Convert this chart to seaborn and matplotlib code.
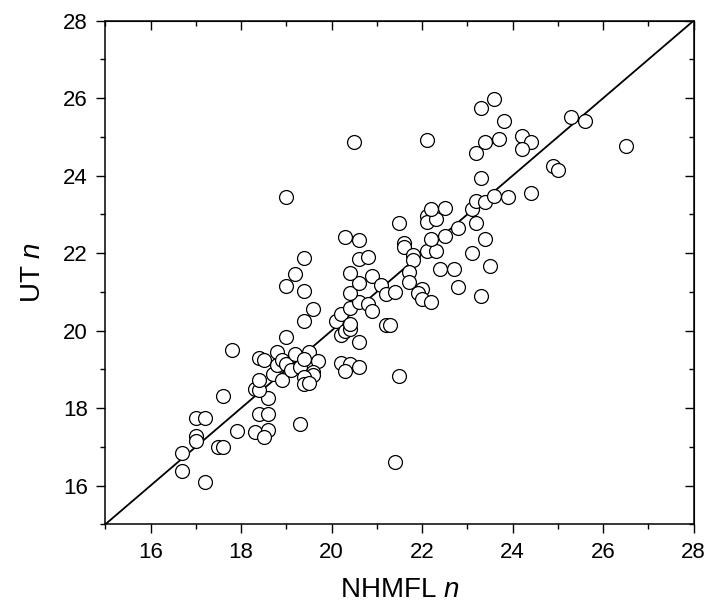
import matplotlib
matplotlib.use("Agg")
import matplotlib.pyplot as plt
from matplotlib.ticker import MultipleLocator
import numpy as np
import pandas as pd
import seaborn as sns

# NHMFL n vs UT n
nhmfl = [16.7, 16.7, 17.2, 17.0, 17.2, 17.0, 17.0, 17.5, 17.6, 17.6, 17.8, 17.9,
         18.3, 18.6, 18.5, 18.4, 18.6, 18.6, 18.3, 18.4, 18.4, 18.7, 18.4, 18.5,
         18.8, 18.8, 18.9, 18.9, 19.0, 19.0, 19.0, 19.0,
         19.1, 19.2, 19.3, 19.3, 19.5, 19.4, 19.7, 19.6, 19.6, 19.4, 19.4, 19.5,
         19.2, 19.4, 19.4, 19.4, 19.6,
         20.1, 20.2, 20.4, 20.2, 20.3, 20.4, 20.4, 20.6, 20.2, 20.4, 20.6, 20.3,
         20.6, 20.8, 20.9, 20.4, 20.6, 20.4, 20.9, 20.3, 20.6, 20.6, 20.8, 20.5,
         21.1, 21.2, 21.4, 21.2, 21.3, 21.5, 21.4, 21.5, 21.6, 21.6, 21.8, 21.8,
         21.7, 21.7, 22.0, 21.9, 22.0,
         22.2, 22.1, 22.3, 22.2, 22.5, 22.1, 22.1, 22.3, 22.2, 22.5, 22.1, 22.4,
         22.7, 22.8, 22.8,
         23.1, 23.1, 23.2, 23.4, 23.6, 23.9, 23.2, 23.4, 23.5, 23.3, 23.3, 24.4,
         23.2, 23.4, 23.7, 24.2, 24.4, 24.2, 23.3, 23.6, 23.8, 25.3, 25.6, 26.5,
         24.9, 25.0]
ut = [16.83, 16.37, 16.10, 17.74, 17.74, 17.28, 17.15, 17.00, 17.00, 18.32, 19.50, 17.40,
      17.38, 17.44, 17.25, 17.85, 17.85, 18.25, 18.49, 18.47, 18.72, 18.89, 19.29, 19.23,
      19.46, 19.10, 18.72, 19.24, 19.15, 19.83, 21.15, 23.46,
      18.98, 19.40, 19.07, 17.59, 19.45, 19.26, 19.21, 18.94, 18.85, 18.80, 18.62, 18.64,
      21.46, 21.02, 21.87, 20.26, 20.55,
      20.26, 20.43, 20.59, 19.88, 20.00, 20.05, 20.17, 19.70, 19.17, 19.15, 19.05, 18.97,
      20.74, 20.69, 20.50, 20.96, 21.23, 21.50, 21.40, 22.42, 22.33, 21.86, 21.91, 24.86,
      21.18, 20.94, 21.00, 20.15, 20.14, 18.82, 16.62, 22.78, 22.26, 22.16, 21.94, 21.82,
      21.52, 21.26, 21.08, 20.97, 20.82,
      20.75, 22.05, 22.06, 22.37, 22.45, 22.95, 22.80, 22.87, 23.13, 23.16, 24.92, 21.60,
      21.60, 21.13, 22.65,
      22.00, 23.14, 23.34, 23.32, 23.47, 23.44, 22.78, 22.37, 21.68, 20.90, 23.95, 23.54,
      24.58, 24.88, 24.94, 25.03, 24.87, 24.70, 25.74, 25.98, 25.42, 25.52, 25.40, 24.77,
      24.26, 24.15]

lims = [15, 28]

df = pd.DataFrame({"NHMFL": nhmfl, "UT": ut})

sns.set_style("ticks")
plt.rcParams["font.family"] = ["Liberation Sans Narrow", "Liberation Sans", "DejaVu Sans"]
plt.rcParams["mathtext.fontset"] = "custom"
plt.rcParams["mathtext.it"] = "Liberation Sans:italic"
plt.rcParams["mathtext.rm"] = "Liberation Sans"
for k in ["text.color", "axes.labelcolor", "xtick.color", "ytick.color", "axes.edgecolor"]:
    plt.rcParams[k] = "black"

fig = plt.figure(figsize=(7.07, 6.10), dpi=100)
ax = fig.add_axes([0.149, 0.1405, 0.832, 0.8255])

# 1:1 line
ax.plot(lims, lims, color="black", lw=1.3, zorder=1)

sns.scatterplot(data=df, x="NHMFL", y="UT", ax=ax, s=100, marker="o",
                facecolor="white", edgecolor="black", linewidth=0.9, zorder=2)

ax.set_xlim(lims)
ax.set_ylim(lims)
ax.xaxis.set_major_locator(MultipleLocator(2))
ax.xaxis.set_minor_locator(MultipleLocator(1))
ax.yaxis.set_major_locator(MultipleLocator(2))
ax.yaxis.set_minor_locator(MultipleLocator(1))
ax.tick_params(which="major", direction="out", length=6.5, width=1.0,
               labelsize=16, pad=6, colors="black")
ax.tick_params(which="minor", direction="out", length=3.5, width=1.0)

for sp in ax.spines.values():
    sp.set_visible(True)
    sp.set_linewidth(1.1)
    sp.set_color("black")

# inward ticks on the top and right edges
top = ax.secondary_xaxis("top")
top.xaxis.set_major_locator(MultipleLocator(2))
top.xaxis.set_minor_locator(MultipleLocator(1))
top.tick_params(which="major", direction="in", length=6.5, width=1.0, labeltop=False)
top.tick_params(which="minor", direction="in", length=3.5, width=1.0)
right = ax.secondary_yaxis("right")
right.yaxis.set_major_locator(MultipleLocator(2))
right.yaxis.set_minor_locator(MultipleLocator(1))
right.tick_params(which="major", direction="in", length=6.5, width=1.0, labelright=False)
right.tick_params(which="minor", direction="in", length=3.5, width=1.0)

ax.set_xlabel("NHMFL $\\mathit{n}$", fontsize=20, labelpad=10, color="black")
ax.set_ylabel("UT $\\mathit{n}$", fontsize=20, labelpad=12, color="black")

fig.savefig("out.png", dpi=100)
